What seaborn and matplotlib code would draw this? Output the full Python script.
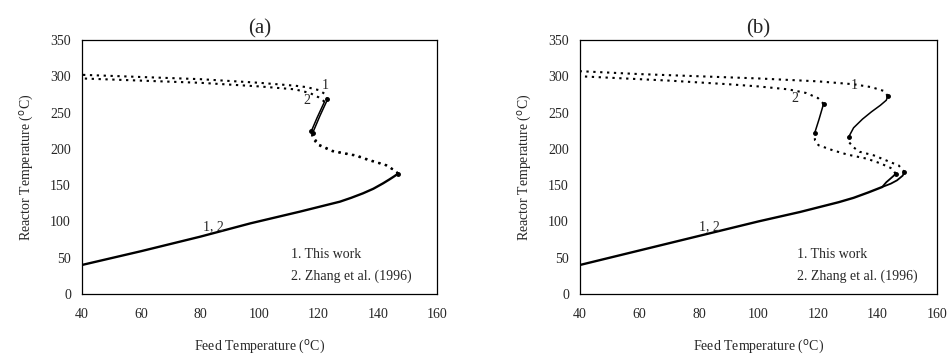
import pandas as pd
import matplotlib
matplotlib.use("Agg")
import matplotlib.pyplot as plt
import seaborn as sns

sns.set_style("white")
plt.rcParams["font.family"] = ["Liberation Serif", "DejaVu Serif"]

# ---- panel (a) ----
a_low_x = [40, 60, 80, 97, 113.6, 127.2, 131, 135, 138.5, 141.8, 144, 145.7, 146.9]
a_low_y = [40, 59, 79, 97.4, 113.4, 127.2, 132.5, 138.7, 145, 152.5, 158, 162.5, 166]

a1_mid_x = [146.9, 145.5, 142.9, 137, 132.8, 125, 120, 118.5, 118]
a1_mid_y = [166, 171, 177.7, 185, 191, 197, 206, 215, 222]
a2_mid_x = [146.9, 145.3, 142.6, 136.7, 132.5, 124.7, 119.7, 118, 117.5]
a2_mid_y = [166, 171, 177.5, 184.5, 190.5, 196.5, 205.5, 215, 224]

a1_solid_x = [118, 120.5, 123]
a1_solid_y = [222, 246, 268]
a2_solid_x = [117.5, 119.5, 122]
a2_solid_y = [224, 243, 265]

a1_up_x = [123, 122, 120, 116, 112, 100, 80, 60, 40]
a1_up_y = [268, 276, 281, 285, 287, 291, 296, 299, 302]
a2_up_x = [122, 120, 117, 112, 100, 80, 60, 40]
a2_up_y = [265, 271, 277, 282, 286, 291, 294, 297]

# ---- panel (b) ----
b_low_x = [40, 60, 80, 100, 114, 127, 132, 137, 141.6]
b_low_y = [40, 60, 80, 100, 113, 126.5, 132.5, 140, 147.4]
b1_turn_x = [141.6, 144.5, 146.6, 148.5, 149.1]
b1_turn_y = [147.4, 152, 156.6, 163, 168]
b2_turn_x = [141.6, 143, 144.4, 145.5, 146.1]
b2_turn_y = [147.4, 154, 159, 163, 165.8]

b1_mid_x = [149.1, 147.2, 143, 138.8, 134, 132, 130.5, 130.3]
b1_mid_y = [168, 177, 184, 191, 196, 202, 209, 216]
b2_mid_x = [146.1, 145, 141, 136.5, 130, 125, 120.2, 119, 118.9]
b2_mid_y = [165.8, 172.7, 180, 186.4, 192, 198, 205, 212, 221.6]

b1_solid_x = [130.3, 132, 135, 138, 141, 143, 143.5]
b1_solid_y = [216, 229, 241, 251, 260, 267, 273]
b2_solid_x = [118.9, 120.4, 121.9]
b2_solid_y = [221.6, 241, 262]

b1_up_x = [143.5, 142, 138, 132, 120, 100, 80, 60, 40]
b1_up_y = [273, 280, 285, 289, 293, 297, 300, 303, 307]
b2_up_x = [121.9, 120, 116, 110, 100, 90, 70, 50, 40]
b2_up_y = [262, 270, 277, 282, 286, 289, 294, 298, 300]

fig = plt.figure(figsize=(9.49, 3.57), dpi=100)
ax_a = fig.add_axes([0.0864, 0.1765, 0.374, 0.7115])
ax_b = fig.add_axes([0.6112, 0.1765, 0.376, 0.7115])

DOT = (0, (1.1, 2.2))


def draw(ax, x, y, ls, lw=1.3):
    sns.lineplot(x=x, y=y, ax=ax, sort=False, estimator=None,
                 color="black", linestyle=ls, linewidth=lw)


# panel (a)
draw(ax_a, a_low_x, a_low_y, "-", 1.7)
draw(ax_a, a1_mid_x, a1_mid_y, DOT, 1.5)
draw(ax_a, a2_mid_x, a2_mid_y, DOT, 1.5)
draw(ax_a, a1_solid_x, a1_solid_y, "-", 1.1)
draw(ax_a, a2_solid_x, a2_solid_y, "-", 1.1)
draw(ax_a, a1_up_x, a1_up_y, DOT, 1.5)
draw(ax_a, a2_up_x, a2_up_y, DOT, 1.5)
ax_a.plot([a_low_x[-1], a1_solid_x[0], a1_solid_x[-1], a2_solid_x[0]],
          [a_low_y[-1], a1_solid_y[0], a1_solid_y[-1], a2_solid_y[0]],
          "o", color="black", markersize=2.5)

# panel (b)
draw(ax_b, b_low_x, b_low_y, "-", 1.7)
draw(ax_b, b1_turn_x, b1_turn_y, "-", 1.3)
draw(ax_b, b2_turn_x, b2_turn_y, "-", 1.3)
draw(ax_b, b1_mid_x, b1_mid_y, DOT, 1.5)
draw(ax_b, b2_mid_x, b2_mid_y, DOT, 1.5)
draw(ax_b, b1_solid_x, b1_solid_y, "-", 1.1)
draw(ax_b, b2_solid_x, b2_solid_y, "-", 1.1)
draw(ax_b, b1_up_x, b1_up_y, DOT, 1.5)
draw(ax_b, b2_up_x, b2_up_y, DOT, 1.5)
ax_b.plot([b1_turn_x[-1], b2_turn_x[-1], b1_solid_x[0], b1_solid_x[-1],
           b2_solid_x[0], b2_solid_x[-1]],
          [b1_turn_y[-1], b2_turn_y[-1], b1_solid_y[0], b1_solid_y[-1],
           b2_solid_y[0], b2_solid_y[-1]],
          "o", color="black", markersize=2.5)

for ax, title in [(ax_a, "(a)"), (ax_b, "(b)")]:
    ax.set_xlim(40, 160)
    ax.set_ylim(0, 350)
    ax.set_xticks(range(40, 161, 20))
    ax.set_yticks(range(0, 351, 50))
    ax.tick_params(direction="in", length=3, width=0.8, labelsize=10)
    ax.tick_params(axis="x", pad=10)
    ax.tick_params(axis="y", pad=8)
    for s in ax.spines.values():
        s.set_color("black")
        s.set_linewidth(0.9)
    ax.set_title(title, fontsize=15, pad=5)
    ax.set_xlabel("Feed Temperature ($^{\\rm o}$C)", fontsize=10, labelpad=12)
    ax.set_ylabel("Reactor Temperature ($^{\\rm o}$C)", fontsize=10, labelpad=10)

ax_a.text(81, 88, "1, 2", fontsize=10)
ax_a.text(121, 282, "1", fontsize=10)
ax_a.text(115, 262, "2", fontsize=10)
ax_a.text(110.5, 50, "1. This work", fontsize=10)
ax_a.text(110.5, 20, "2. Zhang et al. (1996)", fontsize=10)

ax_b.text(80, 88, "1, 2", fontsize=10)
ax_b.text(131, 283, "1", fontsize=10)
ax_b.text(111, 264, "2", fontsize=10)
ax_b.text(113, 50, "1. This work", fontsize=10)
ax_b.text(113, 20, "2. Zhang et al. (1996)", fontsize=10)

fig.savefig("out.png", dpi=100)
